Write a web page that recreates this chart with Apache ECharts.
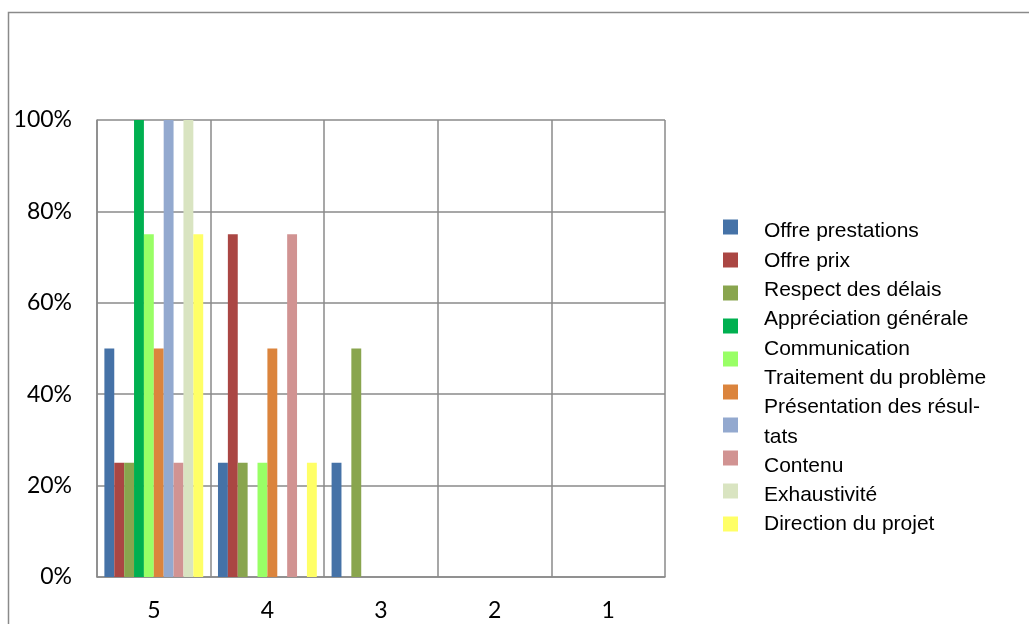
<!DOCTYPE html>
<html>
<head>
<meta charset="utf-8">
<script src="https://cdn.jsdelivr.net/npm/echarts@6/dist/echarts.min.js"></script>
<style>
  html, body { margin: 0; padding: 0; background: #fff; }
  #chart { width: 1029px; height: 624px; }
</style>
</head>
<body>
<div id="chart"></div>
<script>
// Rating levels on the x axis
const categories = ['5', '4', '3', '2', '1'];

// Share of answers (%) per rating, one array per criterion
const offrePrestations   = [50, 25, 25, 0, 0];
const offrePrix          = [25, 75, 0, 0, 0];
const respectDelais      = [25, 25, 50, 0, 0];
const appreciationGen    = [100, 0, 0, 0, 0];
const communication      = [75, 25, 0, 0, 0];
const traitementProbleme = [50, 50, 0, 0, 0];
const presentationRes    = [100, 0, 0, 0, 0];
const contenu            = [25, 75, 0, 0, 0];
const exhaustivite       = [100, 0, 0, 0, 0];
const directionProjet    = [75, 25, 0, 0, 0];

const seriesNames = [
  'Offre prestations', 'Offre prix', 'Respect des délais', 'Appréciation générale',
  'Communication', 'Traitement du problème', 'Présentation des résultats',
  'Contenu', 'Exhaustivité', 'Direction du projet'
];
const seriesValues = [
  offrePrestations, offrePrix, respectDelais, appreciationGen, communication,
  traitementProbleme, presentationRes, contenu, exhaustivite, directionProjet
];
const seriesColors = [
  '#4572A7', '#AA4643', '#89A54E', '#00B050', '#99FF66',
  '#DB843D', '#93A9CF', '#D19392', '#D9E4C1', '#FFFF66'
];

const gridColor = '#8a8a8a';

const chart = echarts.init(document.getElementById('chart'), null, { renderer: 'canvas' });

chart.setOption({
  animation: false,
  backgroundColor: '#fff',
  graphic: [{
    type: 'rect',
    shape: { x: 8.5, y: 12.5, width: 1100, height: 700 },
    style: { fill: 'none', stroke: gridColor, lineWidth: 1.5 },
    silent: true,
    z: -10
  }],
  grid: { left: 97, right: 364, top: 120, bottom: 47, containLabel: false },
  legend: [
    {
      // colour swatches
      orient: 'vertical',
      left: 723,
      top: 219.5,
      padding: 0,
      icon: 'rect',
      itemWidth: 15,
      itemHeight: 15,
      itemGap: 18,
      selectedMode: false,
      formatter: () => '',
      textStyle: { fontSize: 10, lineHeight: 10 },
      data: seriesNames
    },
    {
      // legend labels
      orient: 'vertical',
      left: 759,
      top: 217,
      padding: 0,
      icon: 'none',
      itemWidth: 0,
      itemHeight: 0,
      itemGap: 0,
      selectedMode: false,
      formatter: (name) => name === 'Présentation des résultats' ? 'Présentation des résul-\ntats' : name,
      textStyle: {
        fontFamily: 'Liberation Sans',
        fontSize: 21,
        lineHeight: 29.3,
        color: '#000'
      },
      data: seriesNames
    }
  ],
  xAxis: {
    type: 'category',
    data: categories,
    boundaryGap: true,
    axisLine: { show: true, lineStyle: { color: gridColor, width: 1.5 } },
    axisTick: { show: false },
    axisLabel: {
      margin: 22,
      fontFamily: 'Lato',
      fontSize: 23,
      color: '#000'
    },
    splitLine: { show: true, lineStyle: { color: gridColor, width: 1.5 } }
  },
  yAxis: {
    type: 'value',
    min: 0,
    max: 100,
    interval: 20,
    axisLine: { show: true, lineStyle: { color: gridColor, width: 1.5 } },
    axisTick: { show: false },
    axisLabel: {
      formatter: '{value}%',
      margin: 25,
      fontFamily: 'Lato',
      fontSize: 23,
      color: '#000'
    },
    splitLine: { show: true, lineStyle: { color: gridColor, width: 1.5 } }
  },
  series: seriesNames.map((name, i) => ({
    name: name,
    type: 'bar',
    data: seriesValues[i],
    barGap: '0%',
    barCategoryGap: '13%',
    itemStyle: { color: seriesColors[i] }
  }))
});
</script>
</body>
</html>
